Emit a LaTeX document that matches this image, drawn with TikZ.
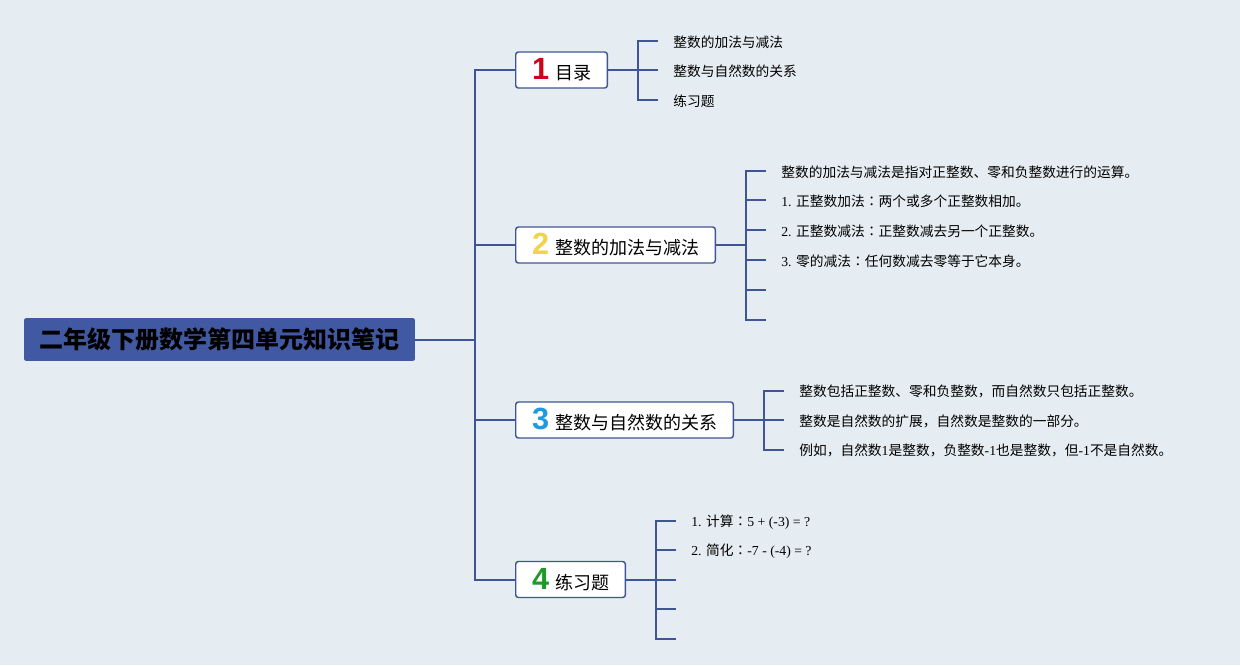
\documentclass[tikz,border=0pt]{standalone}
\usepackage{fontspec}
\setmainfont{Liberation Serif}
\newfontfamily\cjk{Noto Sans CJK SC}
\newfontfamily\cjktc{Noto Sans CJK TC}
\newfontfamily\latfont{Liberation Serif}
\newfontfamily\numfont{Liberation Sans}
\usetikzlibrary{calc}
\definecolor{bgcol}{HTML}{E6EDF2}
\definecolor{linecol}{HTML}{3F5596}
\definecolor{rootcol}{HTML}{4159A2}
\definecolor{numred}{HTML}{D0021B}
\definecolor{numyellow}{HTML}{F2D44C}
\definecolor{numblue}{HTML}{1E9BE0}
\definecolor{numgreen}{HTML}{1F9A2A}
\def\lat#1{{\latfont #1}}
\def\fwcolon{{\cjktc ：}}
\def\num#1#2{{\numfont\bfseries\fontsize{23pt}{23pt}\selectfont\color{#1}#2}\hspace{4.5pt}}
\tikzset{
  branch/.style={draw=linecol,line width=1.5pt},
  rootbox/.style={fill=rootcol,rounded corners=1.5pt,inner xsep=11.6pt,
    minimum height=32pt,font=\cjk\bfseries\fontsize{18pt}{18pt}\selectfont,text=black},
  topic/.style={draw=linecol,line width=1.1pt,fill=white,rounded corners=2pt,
    anchor=west,inner xsep=12.2pt,minimum height=27pt,
    font=\cjk\fontsize{13.5pt}{13.5pt}\selectfont},
  leaf/.style={anchor=west,inner xsep=11.25pt,inner ysep=1pt,yshift=-1pt,
    font=\cjk\fontsize{10.3pt}{12pt}\selectfont}
}
\begin{document}
\begin{tikzpicture}[x=0.75pt,y=-0.75pt]
\fill[bgcol] (0,0) rectangle (1240,665);
\useasboundingbox (0,0) rectangle (1240,665);
\node[rootbox] (root) at (219.5,339.5) {二年级下册数学第四单元知识笔记};
\coordinate (hub) at (475,339.5);
\node[topic] (b1) at (515,70) {\num{numred}{1}目录};
\node[topic] (b2) at (515,245) {\num{numyellow}{2}整数的加法与减法};
\node[topic] (b3) at (515,420) {\num{numblue}{3}整数与自然数的关系};
\node[topic] (b4) at (515,579.5) {\num{numgreen}{4}练习题};
\draw[branch] (root.east) -- (hub);
\foreach \b in {b1,b2,b3,b4}
  \draw[branch] (hub) |- (\b.west);
\foreach \b in {1,2,3,4} {
  \coordinate (s\b) at ($(b\b.east)+(30,0)$);
  \draw[branch] (b\b.east) -- (s\b);
}
\foreach \i in {1,...,3} {
  \coordinate (l1-\i) at ($(s1)+(20,{(\i-2)*29.5})$);
  \draw[branch] (s1) |- (l1-\i);
}
\foreach \i in {1,...,6} {
  \coordinate (l2-\i) at ($(s2)+(20,{(\i-3.5)*29.8})$);
  \draw[branch] (s2) |- (l2-\i);
}
\foreach \i in {1,...,3} {
  \coordinate (l3-\i) at ($(s3)+(20,{(\i-2)*29.5})$);
  \draw[branch] (s3) |- (l3-\i);
}
\foreach \i in {1,...,5} {
  \coordinate (l4-\i) at ($(s4)+(20,{(\i-3)*29.5})$);
  \draw[branch] (s4) |- (l4-\i);
}
\foreach \t [count=\i] in {{整数的加法与减法},{整数与自然数的关系},{练习题}}
  \node[leaf] (t1-\i) at (l1-\i) {\t};
\foreach \t [count=\i] in {{整数的加法与减法是指对正整数、零和负整数进行的运算。},
    {\lat{1. }正整数加法\fwcolon 两个或多个正整数相加。},
    {\lat{2. }正整数减法\fwcolon 正整数减去另一个正整数。},
    {\lat{3. }零的减法\fwcolon 任何数减去零等于它本身。}}
  \node[leaf] (t2-\i) at (l2-\i) {\t};
\foreach \t [count=\i] in {{整数包括正整数、零和负整数，而自然数只包括正整数。},
    {整数是自然数的扩展，自然数是整数的一部分。},
    {例如，自然数\lat{1}是整数，负整数\lat{-1}也是整数，但\lat{-1}不是自然数。}}
  \node[leaf] (t3-\i) at (l3-\i) {\t};
\foreach \t [count=\i] in {{\lat{1. }计算\fwcolon\lat{5 + (-3) = ?}},
    {\lat{2. }简化\fwcolon\lat{-7 - (-4) = ?}}}
  \node[leaf] (t4-\i) at (l4-\i) {\t};
\end{tikzpicture}
\end{document}
